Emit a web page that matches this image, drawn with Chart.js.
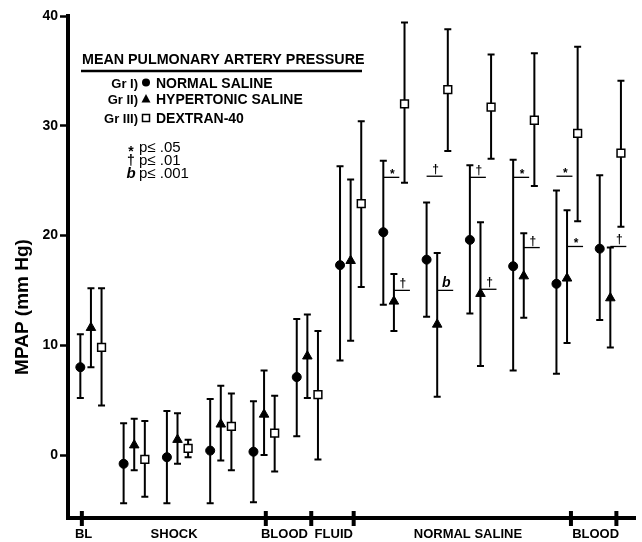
<!DOCTYPE html>
<html><head><meta charset="utf-8">
<script src="https://cdn.jsdelivr.net/npm/chart.js@4"></script>
<style>html,body{margin:0;padding:0;background:#fff}#wrap{width:642px;height:542px}</style>
</head><body><div id="wrap"><canvas id="c" width="642" height="542"></canvas></div>
<script>
// ---- data ----
const groups = [1,2,3,4,5,6,7,8,9,10,11,12,13];
const normalMean = [8.0, -0.8, -0.2, 0.4, 0.3, 7.1, 17.3, 20.3, 17.8, 19.6, 17.2, 15.6, 18.8];
const normalHi   = [11.0, 2.9, 4.0, 5.1, 4.9, 12.4, 26.3, 26.8, 23.0, 26.4, 26.9, 24.1, 25.5];
const normalLo   = [5.2, -4.4, -4.4, -4.4, -4.3, 1.7, 8.6, 13.7, 12.6, 12.9, 7.7, 7.4, 12.3];
const hyperMean  = [11.6, 0.9, 1.4, 2.8, 3.7, 9.0, 17.7, 14.0, 11.9, 14.7, 16.3, 16.1, 14.3];
const hyperHi    = [15.2, 3.3, 3.8, 6.3, 7.7, 12.8, 25.1, 16.5, 18.4, 21.2, 20.2, 22.3, 18.9];
const hyperLo    = [8.0, -1.4, -0.8, -0.5, 0.0, 5.2, 10.4, 11.3, 5.3, 8.1, 12.5, 10.2, 9.8];
const dexMean    = [9.8, -0.4, 0.6, 2.6, 2.0, 5.5, 22.9, 32.0, 33.3, 31.7, 30.5, 29.3, 27.5];
const dexHi      = [15.2, 3.1, 1.4, 5.6, 5.4, 11.3, 30.4, 39.4, 38.8, 36.5, 36.6, 37.2, 34.1];
const dexLo      = [4.5, -3.8, -0.2, -1.4, -1.5, -0.4, 15.3, 24.8, 27.7, 27.0, 24.5, 21.3, 20.8];
const yTicks = [0, 10, 20, 30, 40];
const phaseLabels = ['BL', 'SHOCK', 'BLOOD', 'FLUID', 'NORMAL SALINE', 'BLOOD'];
const phaseLabelAt = [0.83, 2.92, 5.47, 6.61, 9.71, 12.66];
const phaseTickAt = [0.79, 5.04, 6.09, 7.07, 12.09, 13.14];
const sigGroup  = [8, 8, 9, 9, 10, 10, 11, 11, 12, 12, 13];
const sigSeries = [0, 1, 0, 1, 0, 1, 0, 1, 0, 1, 1];
const sigLevel  = [25.3, 15.0, 25.4, 15.0, 25.3, 15.1, 25.3, 18.9, 25.4, 19.0, 19.0];
const sigMark   = ['*', '†', '†', 'b', '†', '†', '*', '†', '*', '*', '†'];

// ---- layout / style constants ----
const FONT = "'Liberation Sans', Arial, Helvetica, sans-serif";
const seriesOffset = [-0.245, 0, 0.245];
const series = [
  {mean: normalMean, hi: normalHi, lo: normalLo},
  {mean: hyperMean, hi: hyperHi, lo: hyperLo},
  {mean: dexMean, hi: dexHi, lo: dexLo}
];
function pts(mean, si){ return groups.map((g,i)=>({x: g + seriesOffset[si], y: mean[i]})); }

const errorBars = {
  id: 'errorBars',
  beforeDatasetsDraw(chart){
    const {ctx, scales:{x, y}} = chart;
    ctx.save();
    ctx.strokeStyle = '#000';
    ctx.lineWidth = 2;
    series.forEach((s, si) => {
      groups.forEach((g, i) => {
        const px = x.getPixelForValue(g + seriesOffset[si]);
        const yt = y.getPixelForValue(s.hi[i]);
        const yb = y.getPixelForValue(s.lo[i]);
        ctx.beginPath();
        ctx.moveTo(px, yt); ctx.lineTo(px, yb);
        ctx.moveTo(px - 3.5, yt); ctx.lineTo(px + 3.5, yt);
        ctx.moveTo(px - 3.5, yb); ctx.lineTo(px + 3.5, yb);
        ctx.stroke();
      });
    });
    ctx.restore();
  }
};

const overlay = {
  id: 'overlay',
  afterDraw(chart){
    const {ctx, scales:{x, y}, chartArea} = chart;
    ctx.save();
    // crossing phase tick marks on x axis
    ctx.strokeStyle = '#000'; ctx.lineWidth = 4;
    phaseTickAt.forEach(v => {
      const px = x.getPixelForValue(v);
      ctx.beginPath(); ctx.moveTo(px, chartArea.bottom - 7); ctx.lineTo(px, chartArea.bottom + 8); ctx.stroke();
    });
    // y axis title
    ctx.save();
    ctx.translate(23, 307);
    ctx.rotate(-Math.PI/2);
    ctx.fillStyle = '#000';
    ctx.font = 'bold 19px ' + FONT;
    ctx.textAlign = 'center'; ctx.textBaseline = 'middle';
    ctx.fillText('MPAP (mm Hg)', 0, 0);
    ctx.restore();
    // legend block
    ctx.fillStyle = '#000';
    ctx.textBaseline = 'alphabetic';
    ctx.font = 'bold 14.3px ' + FONT;
    ctx.textAlign = 'left';
    ctx.fillText('MEAN PULMONARY ARTERY PRESSURE', 82, 64);
    ctx.lineWidth = 2.5;
    ctx.beginPath(); ctx.moveTo(81, 71); ctx.lineTo(362, 71); ctx.stroke();
    const rows = [['Gr I)', 'NORMAL SALINE', 87.5], ['Gr II)', 'HYPERTONIC SALINE', 104], ['Gr III)', 'DEXTRAN-40', 123]];
    rows.forEach((r, k) => {
      ctx.font = 'bold 13px ' + FONT;
      ctx.textAlign = 'right';
      ctx.fillText(r[0], 138, r[2]);
      ctx.font = 'bold 14px ' + FONT;
      ctx.textAlign = 'left';
      ctx.fillText(r[1], 156, r[2]);
      const cy = r[2] - 5, cx = 146;
      ctx.beginPath();
      if (k === 0) { ctx.arc(cx, cy, 4, 0, Math.PI*2); ctx.fill(); }
      else if (k === 1) { ctx.moveTo(cx, cy - 5); ctx.lineTo(cx + 4.5, cy + 3.5); ctx.lineTo(cx - 4.5, cy + 3.5); ctx.closePath(); ctx.fill(); }
      else { ctx.lineWidth = 1.5; ctx.fillStyle = '#fff'; ctx.fillRect(cx-3.5, cy-3.5, 7, 7); ctx.strokeRect(cx-3.5, cy-3.5, 7, 7); ctx.fillStyle = '#000'; }
    });
    const sigRows = [['*', 'p\u2264 .05', 152], ['\u2020', 'p\u2264 .01', 165], ['b', 'p\u2264 .001', 178]];
    sigRows.forEach(r => {
      ctx.textAlign = 'center';
      ctx.font = (r[0] === 'b' ? 'italic bold 15px ' : 'bold 14px ') + FONT;
      ctx.fillText(r[0], 131, r[0] === '*' ? r[2] + 4 : r[2]);
      ctx.textAlign = 'left';
      ctx.font = '15px ' + FONT;
      ctx.fillText(r[1], 139, r[2]);
    });
    // significance annotations
    ctx.lineWidth = 1.3;
    sigGroup.forEach((g, i) => {
      const x0 = x.getPixelForValue(g + seriesOffset[sigSeries[i]]);
      const x1 = x0 + 16;
      const py = y.getPixelForValue(sigLevel[i]);
      ctx.beginPath(); ctx.moveTo(x0, py); ctx.lineTo(x1, py); ctx.stroke();
      ctx.textAlign = 'center';
      const m = sigMark[i];
      ctx.font = (m === 'b' ? 'italic bold 14px ' : 'bold 12px ') + FONT;
      ctx.fillText(m, (x0 + x1)/2 + 1, m === '*' ? py + 1 : py - 3);
    });
    ctx.restore();
  }
};

new Chart(document.getElementById('c'), {
  type: 'scatter',
  data: {
    datasets: [
      {label: 'NORMAL SALINE', data: pts(normalMean, 0), pointStyle: 'circle', pointRadius: 4.5, backgroundColor: '#000', borderColor: '#000', borderWidth: 1},
      {label: 'HYPERTONIC SALINE', data: pts(hyperMean, 1), pointStyle: 'triangle', pointRadius: 5.5, backgroundColor: '#000', borderColor: '#000', borderWidth: 1},
      {label: 'DEXTRAN-40', data: pts(dexMean, 2), pointStyle: 'rect', pointRadius: 5.5, backgroundColor: '#fff', borderColor: '#000', borderWidth: 1.5}
    ]
  },
  options: {
    responsive: false, animation: false, devicePixelRatio: 1,
    layout: {padding: {top: 16, left: 0, right: 0, bottom: 0}},
    plugins: {legend: {display: false}, tooltip: {enabled: false}},
    scales: {
      x: {
        type: 'linear', min: 0.47, max: 13.57, position: 'bottom',
        afterFit(s){ s.height = 24; },
        afterBuildTicks(s){ s.ticks = phaseLabelAt.map(v => ({value: v})); },
        ticks: {autoSkip: false, maxRotation: 0, minRotation: 0, padding: 9, color: '#000',
          font: {family: FONT, size: 13, weight: 'bold'},
          callback: (v, i) => phaseLabels[i]},
        grid: {display: false, drawTicks: false},
        border: {display: true, color: '#000', width: 4}
      },
      y: {
        min: -5.74, max: 40,
        afterFit(s){ s.width = 68; },
        afterBuildTicks(s){ s.ticks = yTicks.map(v => ({value: v})); },
        ticks: {padding: 2, color: '#000', font: {family: FONT, size: 14, weight: 'bold'}},
        grid: {display: true, drawOnChartArea: false, drawTicks: true, tickLength: 8, tickWidth: 2.5, tickColor: '#000', color: '#000'},
        border: {display: true, color: '#000', width: 4}
      }
    }
  },
  plugins: [errorBars, overlay]
});
</script>
</body></html>
